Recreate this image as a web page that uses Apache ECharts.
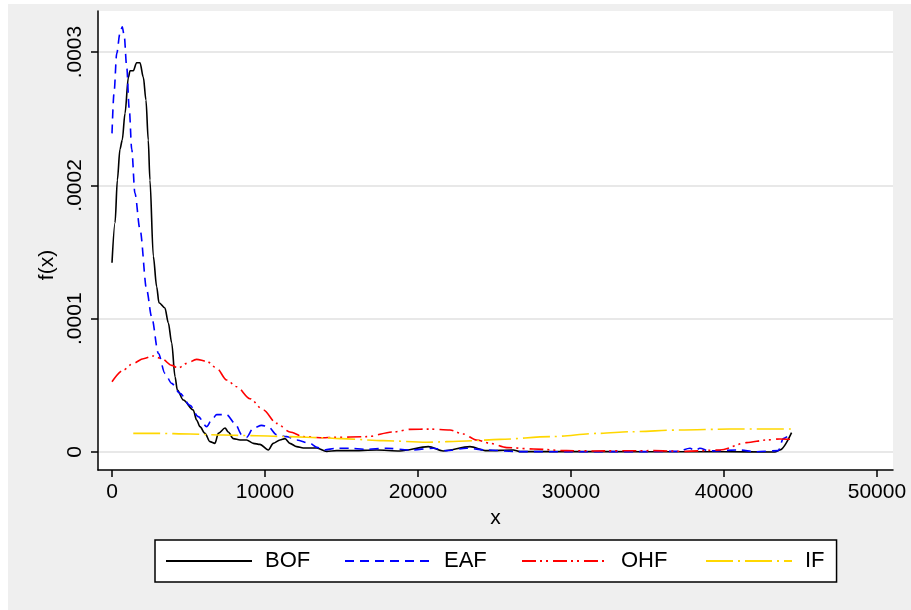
<!DOCTYPE html>
<html>
<head>
<meta charset="utf-8">
<style>
  html, body { margin: 0; padding: 0; background: #fff; }
  #chart { width: 911px; height: 610px; }
</style>
<script src="https://cdn.jsdelivr.net/npm/echarts@6.0.0/dist/echarts.min.js"></script>
</head>
<body>
<div id="chart"></div>
<script>
// kernel density estimates
const bofX = [0, 200, 350, 520, 670, 850, 1070, 1180, 1390, 1610, 1830, 2050, 2220, 2370, 2480, 2700, 2920, 3070, 3460, 3680, 3900, 4120, 4270, 4660, 5310, 5530, 5750, 6080, 6400, 6730, 6950, 7390, 7600, 7930, 8370, 8800, 9240, 9670, 10220, 10540, 10980, 11310, 11630, 12070, 12500, 13380, 14030, 14690, 15560, 17300, 18820, 20680, 21650, 23400, 24490, 26230, 26670, 30000, 35000, 40000, 43330, 43660, 44420]
const bofY = [1.42e-4, 1.72e-4, 2.04e-4, 2.27e-4, 2.34e-4, 2.54e-4, 2.81e-4, 2.86e-4, 2.86e-4, 2.92e-4, 2.92e-4, 2.81e-4, 2.64e-4, 2.34e-4, 2.04e-4, 1.47e-4, 1.24e-4, 1.12e-4, 1.08e-4, 0.97e-4, 0.82e-4, 0.565e-4, 0.465e-4, 0.39e-4, 0.315e-4, 0.24e-4, 0.19e-4, 0.14e-4, 0.078e-4, 0.065e-4, 0.14e-4, 0.18e-4, 0.15e-4, 0.10e-4, 0.09e-4, 0.09e-4, 0.065e-4, 0.057e-4, 0.015e-4, 0.065e-4, 0.09e-4, 0.10e-4, 0.065e-4, 0.04e-4, 0.03e-4, 0.03e-4, 0.005e-4, 0.01e-4, 0.01e-4, 0.015e-4, 0.008e-4, 0.04e-4, 0.008e-4, 0.04e-4, 0.01e-4, 0.015e-4, 0.003e-4, 0.003e-4, 0.002e-4, 0.002e-4, 0, 0.015e-4, 0.145e-4]

const eafX = [0, 130, 310, 520, 670, 800, 960, 1130, 1290, 1500, 1830, 2270, 2590, 3030, 3460, 3900, 4440, 5100, 5640, 6190, 6510, 6840, 7490, 8040, 8480, 8800, 9240, 9780, 10220, 10760, 11420, 12070, 12940, 13400, 13810, 14690, 15560, 16500, 17950, 19480, 21000, 21870, 23180, 24490, 26500, 30000, 35000, 37000, 37780, 38100, 38430, 39000, 41050, 42000, 43550, 43880, 44420]
const eafY = [2.39e-4, 2.69e-4, 2.99e-4, 3.14e-4, 3.19e-4, 3.12e-4, 2.89e-4, 2.57e-4, 2.27e-4, 1.94e-4, 1.67e-4, 1.215e-4, 1.015e-4, 0.74e-4, 0.59e-4, 0.515e-4, 0.44e-4, 0.35e-4, 0.265e-4, 0.19e-4, 0.24e-4, 0.28e-4, 0.28e-4, 0.215e-4, 0.13e-4, 0.11e-4, 0.18e-4, 0.20e-4, 0.19e-4, 0.13e-4, 0.115e-4, 0.09e-4, 0.065e-4, 0.035e-4, 0.015e-4, 0.028e-4, 0.028e-4, 0.02e-4, 0.028e-4, 0.015e-4, 0.028e-4, 0.01e-4, 0.028e-4, 0.015e-4, 0.003e-4, 0.002e-4, 0.003e-4, 0.005e-4, 0.028e-4, 0.01e-4, 0.028e-4, 0.008e-4, 0.015e-4, 0.002e-4, 0.01e-4, 0.10e-4, 0.145e-4]

const ohfX = [0, 740, 1390, 2050, 2700, 3250, 3900, 4340, 4880, 5530, 6190, 6840, 7490, 8150, 9020, 9890, 10760, 11630, 12500, 13810, 14470, 16650, 18380, 19480, 20780, 22090, 22960, 23830, 24710, 25800, 27540, 29720, 31460, 35300, 37500, 39740, 41480, 42790, 43660, 44420]
const ohfY = [0.527e-4, 0.615e-4, 0.665e-4, 0.70e-4, 0.72e-4, 0.70e-4, 0.65e-4, 0.63e-4, 0.665e-4, 0.695e-4, 0.68e-4, 0.63e-4, 0.54e-4, 0.49e-4, 0.40e-4, 0.315e-4, 0.215e-4, 0.15e-4, 0.115e-4, 0.107e-4, 0.11e-4, 0.115e-4, 0.15e-4, 0.17e-4, 0.172e-4, 0.165e-4, 0.135e-4, 0.09e-4, 0.065e-4, 0.033e-4, 0.023e-4, 0.01e-4, 0.008e-4, 0.01e-4, 0.005e-4, 0.015e-4, 0.07e-4, 0.09e-4, 0.098e-4, 0.095e-4]

const ifX = [1390, 2920, 5100, 7280, 9460, 11630, 13810, 15000, 17730, 20570, 23180, 25360, 28630, 31900, 33860, 37120, 40390, 44420]
const ifY = [0.14e-4, 0.14e-4, 0.135e-4, 0.127e-4, 0.122e-4, 0.115e-4, 0.107e-4, 0.10e-4, 0.085e-4, 0.073e-4, 0.083e-4, 0.095e-4, 0.115e-4, 0.14e-4, 0.152e-4, 0.165e-4, 0.172e-4, 0.172e-4]

const xTicks = [0, 10000, 20000, 30000, 40000, 50000]
const yTicks = [0, 0.0001, 0.0002, 0.0003]

const FONT = 'Liberation Sans, Arial, sans-serif'

function pairs(xs, ys) {
  return xs.map((x, i) => [x, ys[i]])
}

function makeSeries(name, xs, ys, color, dash) {
  return {
    name: name,
    type: 'line',
    data: pairs(xs, ys),
    symbol: 'none',
    smooth: 0.3,
    smoothMonotone: 'x',
    lineStyle: { color: color, width: 1.6, type: dash },
    itemStyle: { color: color }
  }
}

const chart = echarts.init(document.getElementById('chart'), null, { renderer: 'canvas' })

chart.setOption({
  animation: false,
  backgroundColor: '#ffffff',
  graphic: [
    {
      type: 'rect',
      z: -10,
      silent: true,
      shape: { x: 8, y: 4, width: 903, height: 606 },
      style: { fill: '#efefef' }
    },
    {
      type: 'text',
      x: 47,
      y: 265,
      rotation: Math.PI / 2,
      style: {
        text: 'f(x)',
        fill: '#000',
        font: '21px ' + FONT,
        align: 'center',
        verticalAlign: 'middle'
      }
    }
  ],
  grid: {
    left: 98,
    top: 11,
    width: 795,
    height: 459,
    show: true,
    backgroundColor: '#ffffff',
    borderWidth: 0
  },
  legend: {
    left: 155,
    top: 540,
    orient: 'horizontal',
    selectedMode: false,
    itemWidth: 86,
    itemHeight: 14,
    itemGap: 20,
    padding: [10, 12, 10, 10],
    borderColor: '#000',
    borderWidth: 1.5,
    backgroundColor: '#ffffff',
    itemStyle: { opacity: 0, borderWidth: 0 },
    textStyle: { fontSize: 22, fontFamily: FONT, color: '#000', lineHeight: 22, padding: [0, 0, 0, 8] },
    data: [
      { name: 'BOF', textStyle: { width: 59 } },
      { name: 'EAF', textStyle: { width: 57 } },
      { name: 'OHF', textStyle: { width: 64 } },
      { name: 'IF' }
    ]
  },
  xAxis: {
    type: 'value',
    min: -915,
    max: 51050,
    name: 'x',
    nameLocation: 'middle',
    nameGap: 37,
    nameTextStyle: { fontSize: 21, fontFamily: FONT, color: '#000' },
    axisLine: { onZero: false, lineStyle: { color: '#000', width: 1.5 } },
    axisTick: { customValues: xTicks, length: 7, lineStyle: { color: '#000', width: 1.5 } },
    axisLabel: {
      customValues: xTicks,
      fontSize: 21,
      fontFamily: FONT,
      color: '#000',
      margin: 12,
      formatter: function (v) {
        return String(v)
      }
    },
    splitLine: { show: false }
  },
  yAxis: {
    type: 'value',
    min: -0.0000135,
    max: 0.0003308,
    axisLine: { show: true, onZero: false, lineStyle: { color: '#000', width: 1.5 } },
    axisTick: { customValues: yTicks, length: 7, lineStyle: { color: '#000', width: 1.5 } },
    axisLabel: {
      customValues: yTicks,
      rotate: 90,
      fontSize: 21,
      fontFamily: FONT,
      color: '#000',
      margin: 12,
      formatter: function (v) {
        return v === 0 ? '0' : v.toFixed(4).replace(/^0/, '')
      }
    },
    splitLine: { show: true, lineStyle: { color: '#e8e8e8', width: 2 } }
  },
  series: [
    makeSeries('BOF', bofX, bofY, '#000000', 'solid'),
    makeSeries('EAF', eafX, eafY, '#0000ff', [9, 6]),
    makeSeries('OHF', ohfX, ohfY, '#ff0000', [14, 4, 2, 4, 2, 5]),
    makeSeries('IF', ifX, ifY, '#ffd700', [27, 5, 2, 5])
  ]
})
</script>
</body>
</html>
